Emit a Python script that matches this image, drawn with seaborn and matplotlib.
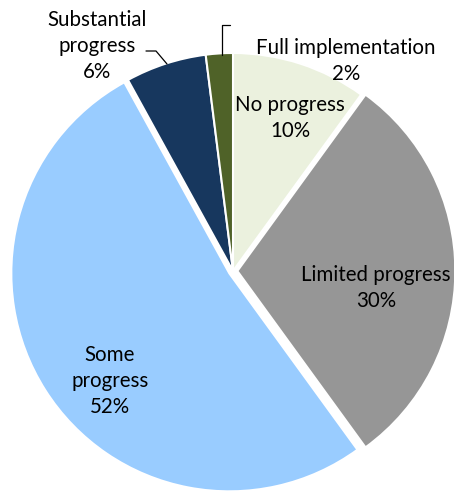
import matplotlib
matplotlib.use("Agg")
import matplotlib.pyplot as plt
import seaborn as sns

# data
categories = ["No progress", "Limited progress", "Some progress",
              "Substantial progress", "Full implementation"]
shares = [10, 30, 52, 6, 2]
colors = ["#EBF1DE", "#969696", "#99CCFF", "#17375E", "#4F6228"]
explode = [0, 0.02, 0.02, 0, 0]

sns.set_theme(style="white")
plt.rcParams["font.family"] = ["Lato", "DejaVu Sans"]

W, H = 454, 492
R = 218.0          # pie radius in px
CX, CY = 233, 271  # pie centre in px (from top-left)


def px(x, y):
    # pixel position -> data coords
    return (x - CX) / R, (CY - y) / R


fig = plt.figure(figsize=(W / 100, H / 100), dpi=100)
ax = fig.add_axes([0, 0, 1, 1])

ax.pie(shares, colors=colors, explode=explode, startangle=90,
       counterclock=False, radius=1,
       wedgeprops=dict(edgecolor="white", linewidth=1.5))
ax.set_aspect("auto")
ax.set_xlim(-CX / R, (W - CX) / R)
ax.set_ylim((CY - H) / R, CY / R)
ax.axis("off")

fs = 14.8
labels = [f"{c}\n{s}%" for c, s in zip(categories, shares)]
labels[2] = f"Some\nprogress\n{shares[2]}%"
labels[3] = f"Substantial\nprogress\n{shares[3]}%"
label_pos = [(290, 118), (376, 288), (110, 381), (97, 46), (346, 61)]

for lab, (x, y) in zip(labels, label_pos):
    ax.text(*px(x, y), lab, ha="center", va="center", fontsize=fs,
            color="black", linespacing=1.38)

# leader lines
ax.plot(*zip(px(146, 51), px(156, 51), px(167, 64)), color="black", lw=0.9)
ax.plot(*zip(px(222, 55), px(222, 25), px(230, 25)), color="black", lw=0.9)

fig.savefig("out.png", dpi=100, facecolor="white")
